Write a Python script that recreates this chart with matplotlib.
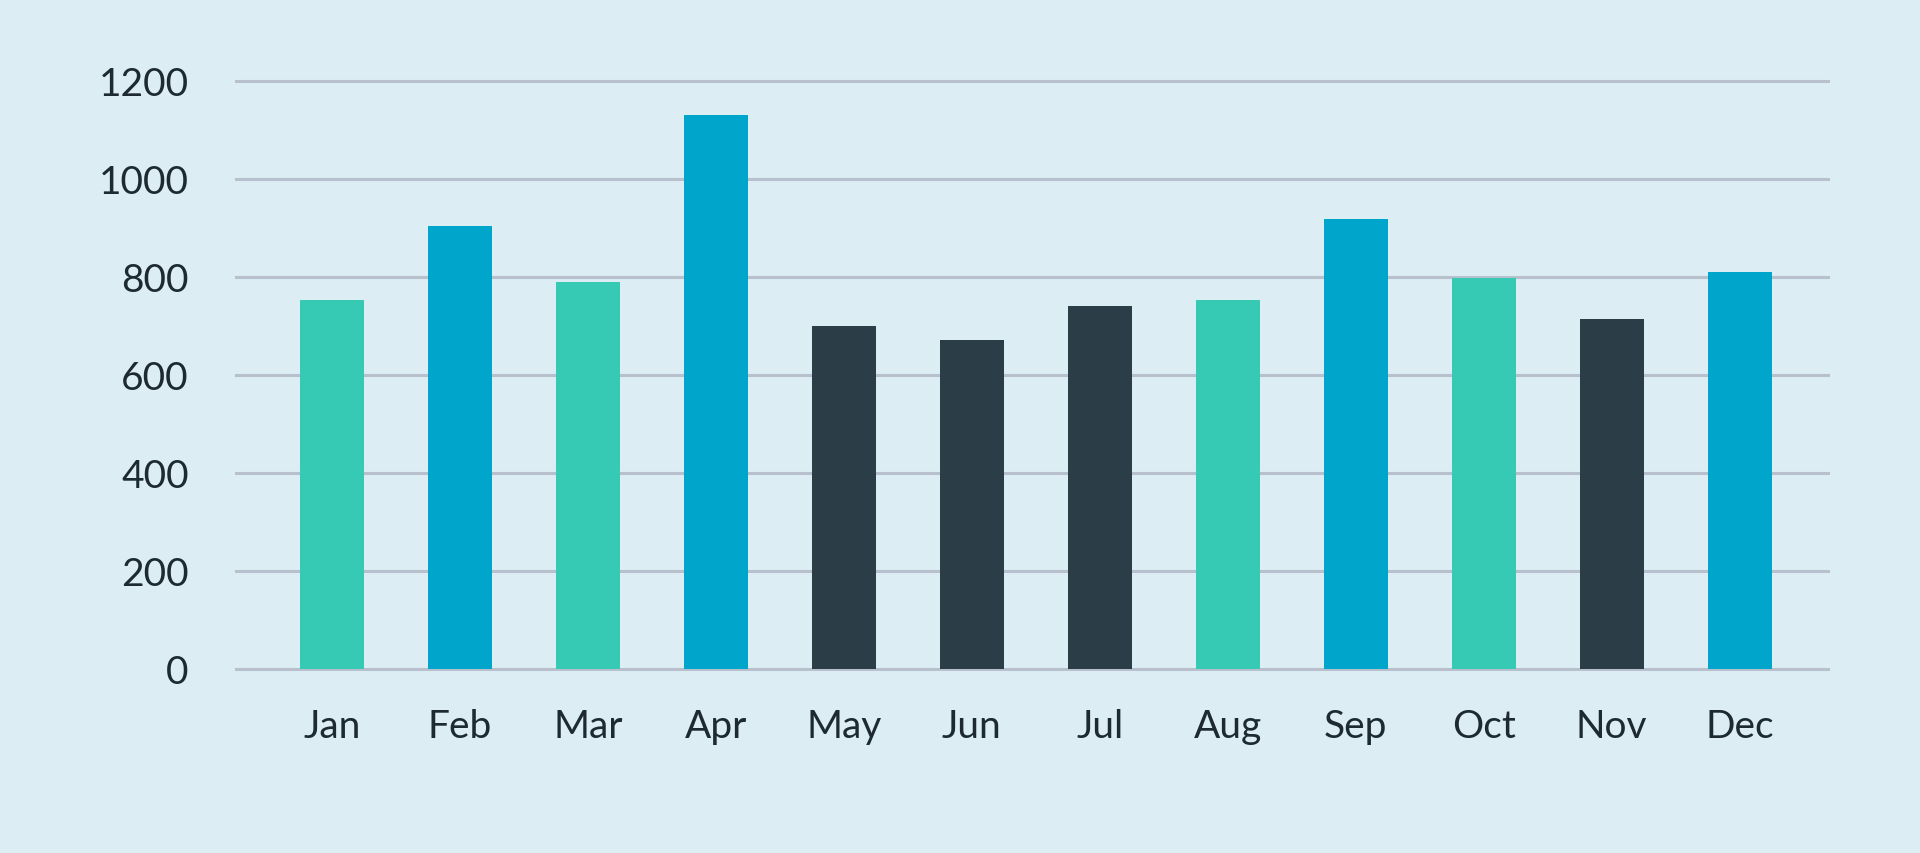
import matplotlib.pyplot as plt

months = ['Jan', 'Feb', 'Mar', 'Apr', 'May', 'Jun',
          'Jul', 'Aug', 'Sep', 'Oct', 'Nov', 'Dec']
values = [754, 905, 789, 1130, 700, 671, 741, 754, 919, 797, 714, 811]
groups = ['teal', 'blue', 'teal', 'blue', 'dark', 'dark',
          'dark', 'teal', 'blue', 'teal', 'dark', 'blue']
y_ticks = [0, 200, 400, 600, 800, 1000, 1200]

palette = {'teal': '#36C9B4', 'blue': '#00A5CB', 'dark': '#2B3E48'}
bg = '#DDEDF4'

plt.rcParams['font.family'] = ['Lato', 'DejaVu Sans']

fig = plt.figure(figsize=(19.2, 8.54), dpi=100, facecolor=bg)
ax = fig.add_axes([0.1229, 0.2155, 0.8292, 0.6885])
ax.set_facecolor(bg)

x = list(range(len(months)))
ax.bar(x, values, width=0.5, color=[palette[g] for g in groups], zorder=2)

ax.set_xlim(-0.75, 11.69)
ax.set_ylim(0, 1200)
ax.set_yticks(y_ticks)
ax.set_xticks(x)
ax.set_xticklabels(months)

ax.grid(axis='y', color='#B7C0CC', linewidth=2.2, zorder=1)
ax.set_axisbelow(True)
for line in ax.get_ygridlines():
    line.set_clip_on(False)

for s in ax.spines.values():
    s.set_visible(False)

ax.tick_params(axis='both', length=0, labelsize=28, labelcolor='#1E2A31')
ax.tick_params(axis='y', pad=34)
ax.tick_params(axis='x', pad=28)

fig.savefig('out.png', dpi=100, facecolor=bg)
